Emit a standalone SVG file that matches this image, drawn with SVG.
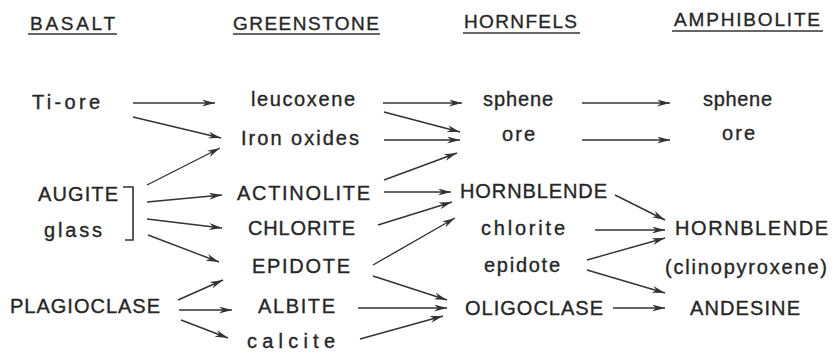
<svg xmlns="http://www.w3.org/2000/svg" width="839" height="356" viewBox="0 0 839 356">
<style>
text{font-family:"Liberation Sans","DejaVu Sans",Arial,sans-serif;font-size:20px;fill:#262626;stroke:#262626;stroke-width:0.35}
.hd{font-size:19px}
.ul{stroke:#333;stroke-width:1.6}
#connectors line{stroke:#333;stroke-width:1.4;fill:none;marker-end:url(#ah)}
.br{stroke:#333;stroke-width:1.6;fill:none}
</style>
<defs>
<marker id="ah" viewBox="0 0 13 7" refX="13" refY="3.5" markerWidth="13" markerHeight="7" markerUnits="userSpaceOnUse" orient="auto">
<path d="M0,0 L13,3.5 L0,7 L4,3.5 Z" fill="#333"/>
</marker>
</defs>
<rect width="839" height="356" fill="#fff"/>
<g id="headings">
<g id="h-basalt"><text class="hd" x="30" y="30" textLength="85" lengthAdjust="spacing">BASALT</text><line class="ul" x1="28" y1="34" x2="117" y2="34"/></g>
<g id="h-greenstone"><text class="hd" x="233" y="30" textLength="146" lengthAdjust="spacing">GREENSTONE</text><line class="ul" x1="233" y1="34" x2="380" y2="34"/></g>
<g id="h-hornfels"><text class="hd" x="464" y="28" textLength="113" lengthAdjust="spacing">HORNFELS</text><line class="ul" x1="463" y1="33" x2="580" y2="33"/></g>
<g id="h-amphibolite"><text class="hd" x="674" y="26" textLength="146" lengthAdjust="spacing">AMPHIBOLITE</text><line class="ul" x1="672" y1="31" x2="823" y2="31"/></g>
</g>
<g id="n-tiore"><text x="32" y="109" textLength="68" lengthAdjust="spacing">Ti-ore</text></g>
<g id="n-augite"><text x="38" y="201" textLength="80" lengthAdjust="spacing">AUGITE</text></g>
<g id="n-glass"><text x="44" y="237" textLength="58" lengthAdjust="spacing">glass</text></g>
<g id="n-bracket"><path class="br" d="M123,187 H133 V240 H125"/></g>
<g id="n-plagioclase"><text x="10" y="313" textLength="150" lengthAdjust="spacing">PLAGIOCLASE</text></g>
<g id="n-leucoxene"><text x="251" y="106" textLength="104" lengthAdjust="spacing">leucoxene</text></g>
<g id="n-ironoxides"><text x="241" y="145" textLength="118" lengthAdjust="spacing">Iron oxides</text></g>
<g id="n-actinolite"><text x="237" y="200" textLength="133" lengthAdjust="spacing">ACTINOLITE</text></g>
<g id="n-chlorite-g"><text x="248" y="235" textLength="107" lengthAdjust="spacing">CHLORITE</text></g>
<g id="n-epidote-g"><text x="252" y="273" textLength="98" lengthAdjust="spacing">EPIDOTE</text></g>
<g id="n-albite"><text x="258" y="313" textLength="77" lengthAdjust="spacing">ALBITE</text></g>
<g id="n-calcite"><text x="247" y="348" textLength="88" lengthAdjust="spacing">calcite</text></g>
<g id="n-sphene-h"><text x="483" y="106" textLength="70" lengthAdjust="spacing">sphene</text></g>
<g id="n-ore-h"><text x="502" y="141" textLength="33" lengthAdjust="spacing">ore</text></g>
<g id="n-hornblende-h"><text x="460" y="198" textLength="147" lengthAdjust="spacing">HORNBLENDE</text></g>
<g id="n-chlorite-h"><text x="481" y="235" textLength="84" lengthAdjust="spacing">chlorite</text></g>
<g id="n-epidote-h"><text x="484" y="272" textLength="76" lengthAdjust="spacing">epidote</text></g>
<g id="n-oligoclase"><text x="465" y="315" textLength="138" lengthAdjust="spacing">OLIGOCLASE</text></g>
<g id="n-sphene-a"><text x="703" y="106" textLength="69" lengthAdjust="spacing">sphene</text></g>
<g id="n-ore-a"><text x="722" y="140" textLength="33" lengthAdjust="spacing">ore</text></g>
<g id="n-hornblende-a"><text x="675" y="235" textLength="153" lengthAdjust="spacing">HORNBLENDE</text></g>
<g id="n-clinopyroxene"><text x="665" y="274" textLength="162" lengthAdjust="spacing">(clinopyroxene)</text></g>
<g id="n-andesine"><text x="690" y="315" textLength="110" lengthAdjust="spacing">ANDESINE</text></g>
<g id="connectors">
<line x1="133" y1="103" x2="215" y2="103"/>
<line x1="133" y1="117" x2="221" y2="138"/>
<line x1="147" y1="185" x2="220" y2="148"/>
<line x1="147" y1="202" x2="222" y2="195"/>
<line x1="147" y1="219" x2="222" y2="228"/>
<line x1="148" y1="235" x2="219" y2="262"/>
<line x1="178" y1="300" x2="223" y2="280"/>
<line x1="179" y1="310" x2="232" y2="310"/>
<line x1="181" y1="320" x2="228" y2="338"/>
<line x1="383" y1="103" x2="462" y2="103"/>
<line x1="384" y1="112" x2="460" y2="132"/>
<line x1="384" y1="140" x2="460" y2="140"/>
<line x1="384" y1="180" x2="457" y2="153"/>
<line x1="384" y1="192" x2="451" y2="192"/>
<line x1="378" y1="225" x2="452" y2="202"/>
<line x1="373" y1="265" x2="455" y2="218"/>
<line x1="373" y1="276" x2="447" y2="300"/>
<line x1="358" y1="308" x2="447" y2="308"/>
<line x1="360" y1="339" x2="443" y2="316"/>
<line x1="582" y1="103" x2="670" y2="103"/>
<line x1="582" y1="140" x2="670" y2="140"/>
<line x1="615" y1="195" x2="665" y2="220"/>
<line x1="595" y1="230" x2="665" y2="230"/>
<line x1="587" y1="260" x2="665" y2="238"/>
<line x1="587" y1="270" x2="665" y2="293"/>
<line x1="613" y1="308" x2="665" y2="308"/>
</g>
</svg>
